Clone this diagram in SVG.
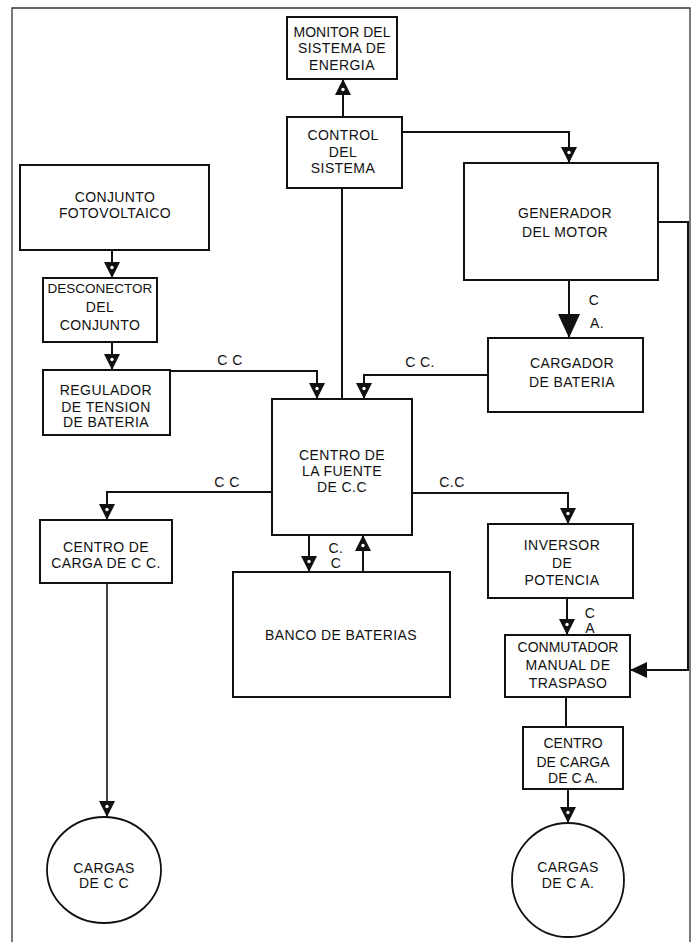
<svg xmlns="http://www.w3.org/2000/svg" width="691" height="942" viewBox="0 0 691 942">
<style>
.box{fill:#fff;stroke:#111;stroke-width:2}
.ell{fill:#fff;stroke:#111;stroke-width:1.8}
.t{font-family:"Liberation Sans",Arial,sans-serif;font-size:14px;fill:#111;text-anchor:middle;letter-spacing:0.4px}
.n{letter-spacing:0px}
.c{fill:none;stroke:#111;stroke-width:2}
.frame{fill:none;stroke:#333;stroke-width:1.3}
</style>
<defs>
<marker id="arr" viewBox="0 0 16 16" refX="16" refY="8" markerWidth="16" markerHeight="16" markerUnits="userSpaceOnUse" orient="auto">
<path d="M0,0 L16,8 L0,16 z" fill="#111"/><circle cx="5.5" cy="8" r="1.7" fill="#fff"/>
</marker>
<marker id="arrS" viewBox="0 0 17 16" refX="17" refY="8" markerWidth="17" markerHeight="16" markerUnits="userSpaceOnUse" orient="auto">
<path d="M0,0 L17,8 L0,16 z" fill="#111"/>
</marker>
<marker id="arrB" viewBox="0 0 24 22" refX="24" refY="11" markerWidth="24" markerHeight="22" markerUnits="userSpaceOnUse" orient="auto">
<path d="M0,0 L24,11 L0,22 z" fill="#111"/>
</marker>
</defs>
<g id="frame">
<path class="frame" d="M12,942 V8 H690 V942"/>
</g>
<g id="connectors">
<path class="c" d="M343,117 V79" marker-end="url(#arr)"/>
<path class="c" d="M402,132 H569 V163" marker-end="url(#arr)"/>
<path class="c" d="M112,250 V278" marker-end="url(#arr)"/>
<path class="c" d="M112,342 V370" marker-end="url(#arr)"/>
<path class="c" d="M170,371 H317 V399" marker-end="url(#arr)"/>
<path class="c" d="M342,188 V399"/>
<path class="c" d="M488,375 H364 V399" marker-end="url(#arr)"/>
<path class="c" d="M569,280 V338" marker-end="url(#arrB)"/>
<path class="c" d="M658,222 H688 V670 H630" marker-end="url(#arrS)"/>
<path class="c" d="M272,492 H107 V520" marker-end="url(#arr)"/>
<path class="c" d="M412,493 H568 V524" marker-end="url(#arr)"/>
<path class="c" d="M309,535 V572" marker-end="url(#arr)"/>
<path class="c" d="M363,572 V535" marker-end="url(#arr)"/>
<path class="c" d="M567,598 V635" marker-end="url(#arr)"/>
<path class="c" d="M566,697 V727"/>
<path class="c" d="M568,789 V823" marker-end="url(#arr)"/>
<path class="c" style="stroke-width:1.6" d="M107,583 V817" marker-end="url(#arr)"/>
<text class="t" x="230" y="365">C C</text>
<text class="t" x="420" y="367">C C.</text>
<text class="t" x="594" y="305">C</text>
<text class="t" x="597" y="328">A.</text>
<text class="t" x="227" y="487">C C</text>
<text class="t" x="452" y="487">C.C</text>
<text class="t" x="336" y="553">C.</text>
<text class="t" x="336" y="568">C</text>
<text class="t" x="590" y="618">C</text>
<text class="t" x="590" y="633">A</text>
</g>
<g id="monitor">
<rect class="box" x="287" y="17" width="110" height="62"/>
<text class="t n" x="342" y="37">MONITOR DEL</text>
<text class="t" x="342" y="53">SISTEMA DE</text>
<text class="t" x="342" y="70">ENERGIA</text>
</g>
<g id="control">
<rect class="box" x="287" y="117" width="115" height="71"/>
<text class="t" x="343" y="140">CONTROL</text>
<text class="t" x="343" y="157">DEL</text>
<text class="t" x="343" y="173">SISTEMA</text>
</g>
<g id="conjunto">
<rect class="box" x="20" y="165" width="189" height="85"/>
<text class="t" x="115" y="202">CONJUNTO</text>
<text class="t" x="115" y="218">FOTOVOLTAICO</text>
</g>
<g id="desconector">
<rect class="box" x="43" y="278" width="114" height="64"/>
<text class="t n" x="100" y="293" style="font-size:13.5px">DESCONECTOR</text>
<text class="t" x="100" y="312">DEL</text>
<text class="t" x="100" y="330">CONJUNTO</text>
</g>
<g id="regulador">
<rect class="box" x="43" y="370" width="127" height="65"/>
<text class="t" x="106" y="395">REGULADOR</text>
<text class="t" x="106" y="412">DE TENSION</text>
<text class="t" x="106" y="427">DE BATERIA</text>
</g>
<g id="generador">
<rect class="box" x="464" y="163" width="194" height="117"/>
<text class="t" x="565" y="218">GENERADOR</text>
<text class="t" x="565" y="237">DEL MOTOR</text>
</g>
<g id="cargador">
<rect class="box" x="488" y="338" width="155" height="74"/>
<text class="t" x="572" y="368">CARGADOR</text>
<text class="t" x="572" y="387">DE BATERIA</text>
</g>
<g id="centro-fuente">
<rect class="box" x="272" y="399" width="140" height="136"/>
<text class="t" x="342" y="460">CENTRO DE</text>
<text class="t" x="342" y="476">LA FUENTE</text>
<text class="t" x="342" y="492">DE C.C</text>
</g>
<g id="centro-carga-cc">
<rect class="box" x="40" y="520" width="132" height="63"/>
<text class="t" x="106" y="552">CENTRO DE</text>
<text class="t" x="106" y="568">CARGA DE C C.</text>
</g>
<g id="banco">
<rect class="box" x="233" y="572" width="217" height="125"/>
<text class="t" x="341" y="640">BANCO DE BATERIAS</text>
</g>
<g id="inversor">
<rect class="box" x="488" y="524" width="145" height="74"/>
<text class="t" x="562" y="550">INVERSOR</text>
<text class="t" x="562" y="568">DE</text>
<text class="t" x="562" y="585">POTENCIA</text>
</g>
<g id="conmutador">
<rect class="box" x="505" y="635" width="125" height="62"/>
<text class="t n" x="568" y="652">CONMUTADOR</text>
<text class="t" x="568" y="670">MANUAL DE</text>
<text class="t" x="568" y="688">TRASPASO</text>
</g>
<g id="centro-carga-ca">
<rect class="box" x="523" y="727" width="100" height="62"/>
<text class="t n" x="573" y="748">CENTRO</text>
<text class="t n" x="573" y="767">DE CARGA</text>
<text class="t n" x="573" y="783">DE C A.</text>
</g>
<g id="cargas-cc">
<ellipse class="ell" cx="104" cy="870" rx="57" ry="53"/>
<text class="t" x="104" y="873">CARGAS</text>
<text class="t" x="104" y="888">DE C C</text>
</g>
<g id="cargas-ca">
<ellipse class="ell" cx="568" cy="880" rx="56" ry="57"/>
<text class="t" x="568" y="872">CARGAS</text>
<text class="t" x="568" y="888">DE C A.</text>
</g>
</svg>
